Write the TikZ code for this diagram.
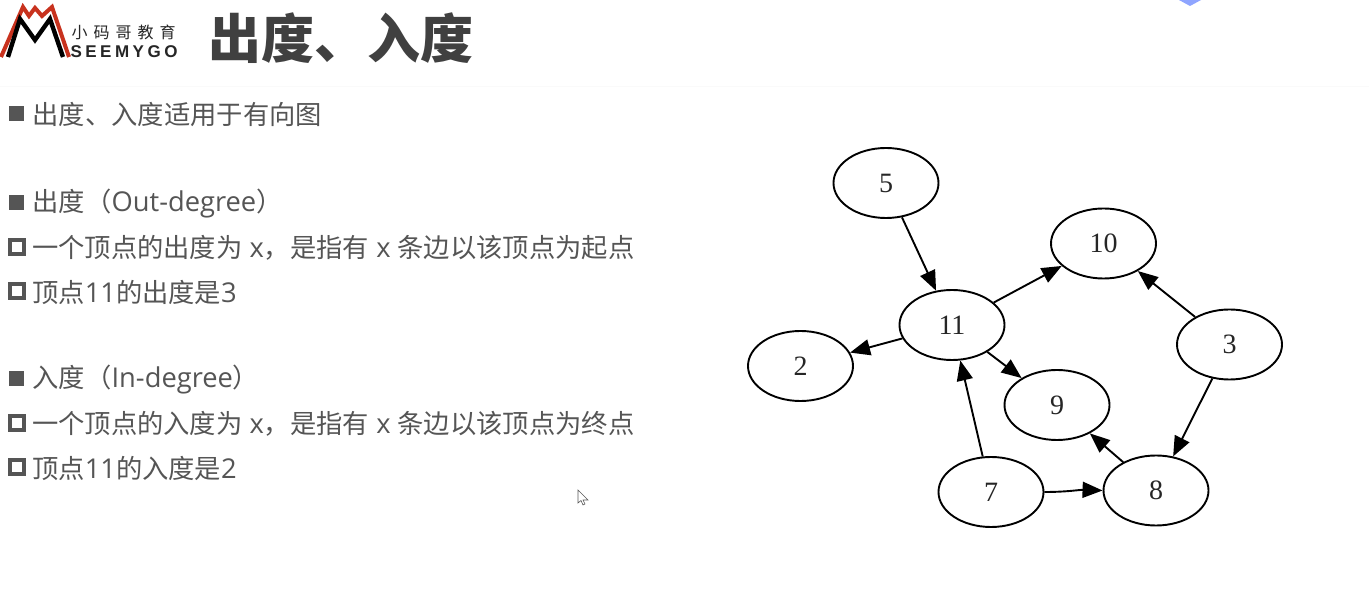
\documentclass[tikz,border=0pt]{standalone}
\usepackage{fontspec}
\setmainfont{Noto Sans CJK SC}
\newfontfamily\serifnum{Liberation Serif}
\newfontfamily\logofont{Liberation Sans}
\newfontfamily\latfont{Open Sans}
\newcommand{\lat}[1]{{\latfont\fontsize{27.3}{27.3}\selectfont #1}}
\usetikzlibrary{arrows.meta,shapes.geometric}
\definecolor{txt}{HTML}{555555}
\definecolor{ttl}{HTML}{404040}
\definecolor{logored}{HTML}{C8321E}
\definecolor{blob}{HTML}{8FA5FF}
\tikzset{
 vertex/.style={draw=black,ellipse,line width=1.9pt,minimum width=105pt,minimum height=70pt,inner sep=0pt,font=\serifnum\fontsize{28}{28}\selectfont,text=black!85},
 edge/.style={draw=black,line width=1.9pt,-{Triangle[length=20pt,width=16pt]}},
 body/.style={anchor=west,inner sep=0pt,text=txt,font=\fontsize{26.3}{26.3}\selectfont},
 bfill/.style={fill=txt,draw=none,minimum size=15pt,inner sep=0pt},
 bhollow/.style={draw=txt,line width=3.6pt,fill=white,minimum size=14pt,inner sep=0pt},
}
\begin{document}
\begin{tikzpicture}[x=1pt,y=-1pt]
\useasboundingbox (0,0) rectangle (1369,593);
\fill[white] (0,0) rectangle (1369,593);
\fill[black!2] (0,86) rectangle (1369,87);
% logo
\draw[logored,line width=4pt,line join=miter] (1,57) -- (23,7) -- (29,16) -- (35,8) -- (42,16) -- (52,7) -- (69,57);
\draw[black,line width=4.4pt,line join=miter] (8,57) -- (20,19) -- (35,40) -- (50,19) -- (63,57);
\node[inner sep=0pt,font=\fontsize{16}{16}\selectfont,text=black!85] (lg1) at (123.5,32.5) {小\hspace{6pt}码\hspace{6pt}哥\hspace{6pt}教\hspace{6pt}育};
\node[inner sep=0pt,font=\logofont\bfseries\fontsize{17}{17}\selectfont,text=black!85] (lg2) at (124,51.5) {S\hspace{3.5pt}E\hspace{3.5pt}E\hspace{3.5pt}M\hspace{3.5pt}Y\hspace{3.5pt}G\hspace{3.5pt}O};
\node[anchor=west,inner sep=0pt,text=ttl,font=\bfseries\fontsize{53}{53}\selectfont] (title) at (208.5,38) {出度、入度};
% text
\node[bfill] (b1) at (16,114) {};
\node[body] (t1) at (32.5,115) {出度、入度适用于有向图};
\node[bfill] (b2) at (16,203) {};
\node[body] (t2) at (32.5,204) {出度（\lat{Out-degree}）};
\node[bhollow] (b3) at (17,247) {};
\node[body] (t3) at (32,248) {一个顶点的出度为\lat{~x}，是指有\lat{~x~}条边以该顶点为起点};
\node[bhollow] (b4) at (17,291) {};
\node[body] (t4) at (32,292) {顶点\lat{11}的出度是\lat{3}};
\node[bfill] (b5) at (16,379) {};
\node[body] (t5) at (32.5,380) {入度（\lat{In-degree}）};
\node[bhollow] (b6) at (17,423) {};
\node[body] (t6) at (32,424) {一个顶点的入度为\lat{~x}，是指有\lat{~x~}条边以该顶点为终点};
\node[bhollow] (b7) at (17,467) {};
\node[body] (t7) at (32,468) {顶点\lat{11}的入度是\lat{2}};
% graph
\node[vertex] (n5) at (886,183) {\raisebox{-2pt}{5}};
\node[vertex] (n10) at (1103.5,243.5) {\raisebox{-2pt}{10}};
\node[vertex] (n11) at (952,325) {\raisebox{-2pt}{11}};
\node[vertex] (n3) at (1229.5,344.5) {\raisebox{-2pt}{3}};
\node[vertex] (n2) at (800.5,366) {\raisebox{-2pt}{2}};
\node[vertex] (n9) at (1057,405) {\raisebox{-2pt}{9}};
\node[vertex] (n7) at (991,492) {\raisebox{-2pt}{7}};
\node[vertex] (n8) at (1156,490.5) {\raisebox{-2pt}{8}};
\draw[edge] (n5) -- (n11);
\draw[edge] (n11) -- (n10);
\draw[edge] (n11) -- (n2);
\draw[edge] (n11) -- (n9);
\draw[edge] (n3) -- (n10);
\draw[edge] (n3) -- (n8);
\draw[edge] (n8) -- (n9);
\draw[edge] (n7) -- (n11);
\draw[edge] (n7.east) to[out=0,in=178] (n8.west);
% decorative blob & cursor
\fill[blob] (1179,0) -- (1201,0) -- (1190,6) -- cycle;
\draw[black!65,fill=white,line width=.6pt] (578,490) -- (578,503) -- (581,500.5) -- (583,505) -- (585,504) -- (583,500) -- (588,500) -- cycle;
\end{tikzpicture}
\end{document}
